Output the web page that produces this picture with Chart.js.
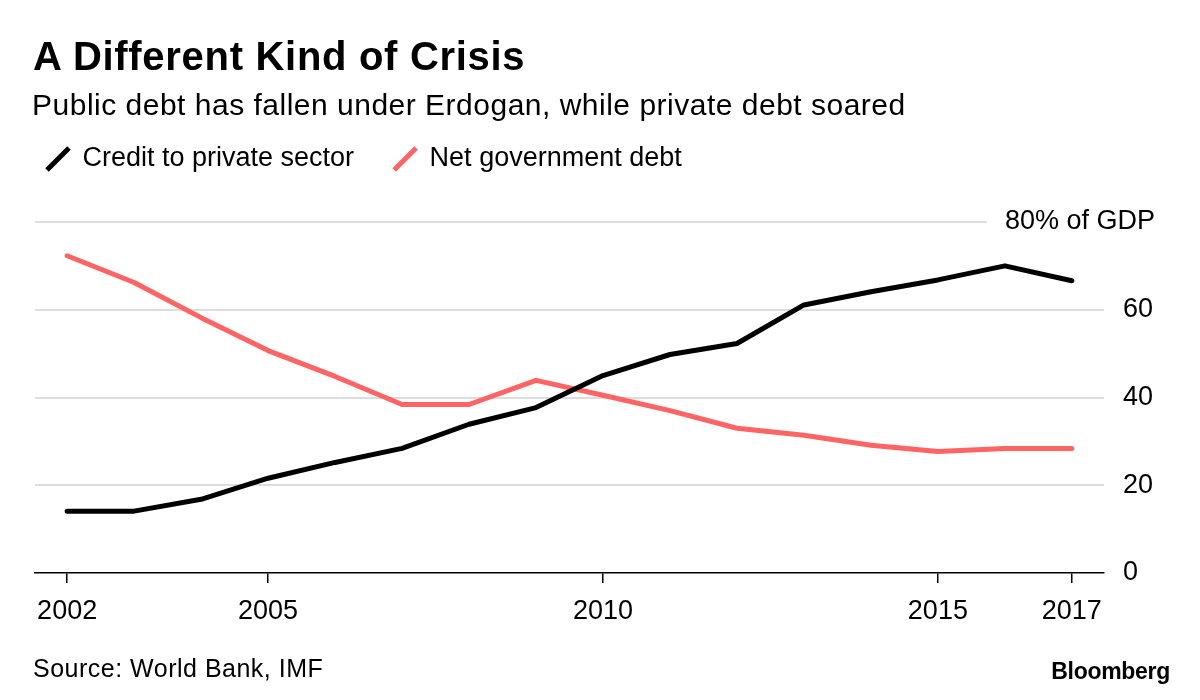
<!DOCTYPE html>
<html>
<head>
<meta charset="utf-8">
<script src="https://cdn.jsdelivr.net/npm/chart.js@4.4.1/dist/chart.umd.min.js"></script>
<style>
  html, body { margin: 0; padding: 0; background: #fff; }
  #wrap { position: relative; width: 1200px; height: 700px; overflow: hidden; font-family: 'Liberation Sans', Arial, sans-serif; color: #000; }
  #chart { position: absolute; left: 0; top: 0; width: 1200px; height: 700px; }
  .t { position: absolute; white-space: nowrap; line-height: 1; }
  #title { left: 33px; top: 36px; font-size: 40px; font-weight: bold; letter-spacing: 0.7px; }
  #subtitle { left: 32px; top: 90px; font-size: 30px; letter-spacing: 0.5px; }
  #source { left: 33px; top: 656px; font-size: 25px; letter-spacing: 0.5px; }
  #brand { right: 30px; top: 660px; font-size: 23px; font-weight: bold; letter-spacing: -0.3px; }
</style>
</head>
<body>
<div id="wrap">
  <canvas id="chart" width="1200" height="700"></canvas>
  <div class="t" id="title">A Different Kind of Crisis</div>
  <div class="t" id="subtitle">Public debt has fallen under Erdogan, while private debt soared</div>
  <div class="t" id="source">Source: World Bank, IMF</div>
  <div class="t" id="brand">Bloomberg</div>
</div>
<script>
// ---- data ----
const years = [2002, 2003, 2004, 2005, 2006, 2007, 2008, 2009, 2010, 2011, 2012, 2013, 2014, 2015, 2016, 2017];
const creditToPrivate = [14.1, 14.1, 16.8, 21.6, 25.2, 28.4, 33.9, 37.7, 45.0, 49.8, 52.3, 61.1, 64.1, 66.8, 70.0, 66.6];
const netGovDebt = [72.3, 66.2, 58.2, 50.7, 44.8, 38.4, 38.4, 43.9, 40.5, 37.0, 33.0, 31.4, 29.1, 27.7, 28.4, 28.4];
const xTickYears = [2002, 2005, 2010, 2015, 2017];
const yTickValues = [0, 20, 40, 60, 80];
const seriesNames = ['Credit to private sector', 'Net government debt'];
const topTickLabel = '80% of GDP';

const BLACK = '#000000';
const RED = '#ff6464';
const FONT = "'Liberation Sans', Arial, sans-serif";

Chart.defaults.font.family = FONT;
Chart.defaults.color = '#000';

function pts(vals) { return years.map((y, i) => ({ x: y, y: vals[i] })); }

const customPlugin = {
  id: 'custom',
  beforeLayout(chart) {
    const lg = chart.legend;
    if (lg && !lg._patched) {
      const f = lg.fit;
      lg.fit = function () { f.call(this); this.height = 222; };
      lg._patched = true;
    }
  },
  afterLayout(chart) {
    const lg = chart.legend;
    if (lg) { lg.top = 105.5; lg.left = 7; }
  },
  beforeDatasetsDraw(chart) {
    const ctx = chart.ctx, y = chart.scales.y, a = chart.chartArea;
    const py = Math.round(y.getPixelForValue(80));
    ctx.save();
    ctx.strokeStyle = '#dddddd';
    ctx.lineWidth = 2;
    ctx.beginPath();
    ctx.moveTo(a.left, py);
    ctx.lineTo(987, py);
    ctx.stroke();
    ctx.restore();
  },
  afterDraw(chart) {
    const ctx = chart.ctx, y = chart.scales.y;
    const py = y.getPixelForValue(80);
    ctx.save();
    ctx.font = '27px ' + FONT;
    ctx.fillStyle = '#000';
    ctx.textAlign = 'right';
    ctx.textBaseline = 'middle';
    ctx.fillText(topTickLabel, 1155, py);
    ctx.restore();
  }
};

new Chart(document.getElementById('chart'), {
  type: 'line',
  data: {
    datasets: [
      {
        label: seriesNames[0], data: pts(creditToPrivate),
        borderColor: BLACK, backgroundColor: BLACK, borderWidth: 5,
        pointRadius: 0, pointHoverRadius: 0, pointStyle: 'line', pointRotation: -45,
        pointBorderWidth: 5, pointBorderColor: BLACK,
        borderJoinStyle: 'round', borderCapStyle: 'round', tension: 0
      },
      {
        label: seriesNames[1], data: pts(netGovDebt),
        borderColor: RED, backgroundColor: RED, borderWidth: 5,
        pointRadius: 0, pointHoverRadius: 0, pointStyle: 'line', pointRotation: -45,
        pointBorderWidth: 5, pointBorderColor: RED,
        borderJoinStyle: 'round', borderCapStyle: 'round', tension: 0
      }
    ]
  },
  options: {
    responsive: false,
    animation: false,
    events: [],
    layout: { padding: { left: 35, right: 0, top: 0, bottom: 0 } },
    plugins: {
      tooltip: { enabled: false },
      title: { display: false },
      legend: {
        display: true, position: 'top', align: 'start',
        labels: {
          usePointStyle: true, boxWidth: 22, boxHeight: 22, padding: 40,
          color: '#000', font: { size: 27, family: FONT }
        }
      }
    },
    scales: {
      x: {
        type: 'linear', min: 2001.52, max: 2017.48,
        afterBuildTicks(axis) { axis.ticks = xTickYears.map(v => ({ value: v })); },
        afterFit(axis) { axis.height = 127; },
        grid: { drawOnChartArea: false, drawTicks: true, tickLength: 10, color: '#000', lineWidth: 1.5 },
        border: { display: true, color: '#000', width: 1.5 },
        ticks: { callback: v => String(v), font: { size: 27, family: FONT }, color: '#000', padding: 12, maxRotation: 0, autoSkip: false }
      },
      y: {
        position: 'right', min: 0, max: 80,
        afterBuildTicks(axis) { axis.ticks = yTickValues.map(v => ({ value: v })); },
        afterFit(axis) { axis.width = 96; },
        grid: {
          drawTicks: false, lineWidth: 2,
          color: c => (c.tick && (c.tick.value === 0 || c.tick.value === 80)) ? 'rgba(0,0,0,0)' : '#dddddd'
        },
        border: { display: false },
        ticks: { callback: v => (v === 80 ? '' : String(v)), font: { size: 27, family: FONT }, color: '#000', padding: 19 }
      }
    }
  },
  plugins: [customPlugin]
});
</script>
</body>
</html>
